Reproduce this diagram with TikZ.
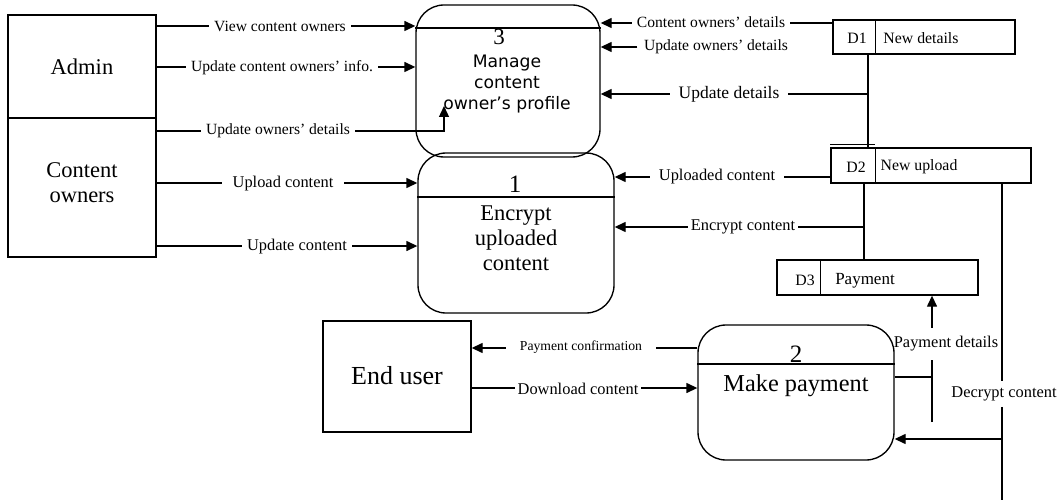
\documentclass[tikz,border=0pt]{standalone}
\usepackage{fontspec}
\setmainfont{Liberation Serif}
\newfontfamily\sansf{DejaVu Sans}
\usetikzlibrary{arrows.meta}
\begin{document}
\begin{tikzpicture}[x=1pt,y=-1pt,
  line width=1.35pt,
  arr/.style={-{Triangle[length=11pt,width=10pt]}},
  ent/.style={draw,rectangle,inner sep=0pt},
  proc/.style={draw,rectangle,rounded corners=28pt,inner sep=0pt},
  store/.style={draw,rectangle,inner sep=0pt},
  lbl/.style={fill=white,font=\fontsize{16.4}{18}\selectfont,inner xsep=5pt,inner ysep=2pt},
  lbls/.style={lbl,font=\fontsize{15.6}{17}\selectfont},
  plain/.style={font=\fontsize{16.4}{18}\selectfont,inner xsep=2pt},
  big/.style={font=\fontsize{22.5}{25}\selectfont,align=center},
  num/.style={font=\fontsize{25}{25}\selectfont,inner sep=0pt},
  stxt/.style={font=\fontsize{15.8}{17}\selectfont,inner sep=0pt},
]
\useasboundingbox (0,0) rectangle (1060,500);

% external entities
\node[ent,big,minimum width=148pt,minimum height=103pt] (admin) at (82,66.5) {Admin};
\node[ent,minimum width=148pt,minimum height=139pt] (cown) at (82,187.5) {};
\node[big] (cownt) at (82,183) {Content\\owners};
\node[ent,minimum width=148pt,minimum height=111pt] (eu) at (397,376.5) {};
\node[font=\fontsize{26}{26}\selectfont] (eut) at (397,376) {End user};

% processes
\node[proc,minimum width=184pt,minimum height=152pt] (p3) at (508,81) {};
\node[proc,minimum width=196pt,minimum height=160pt] (p1) at (516,233) {};
\node[proc,minimum width=196pt,minimum height=135pt] (p2) at (796,392.5) {};
\draw (p3.west |- 0,28) -- (p3.east |- 0,28);
\draw (p1.west |- 0,197) -- (p1.east |- 0,197);
\draw (p2.west |- 0,364) -- (p2.east |- 0,364);
\node[num,font=\fontsize{23}{23}\selectfont] (n3) at (499,37) {3};
\node[num] (n1) at (515,184) {1};
\node[num] (n2) at (796,354) {2};
\node[font=\sansf\fontsize{17.2}{21}\selectfont,align=center] (p3t) at (507,84) {Manage\\content\\owner’s profile};
\node[big] (p1t) at (516,238) {Encrypt\\uploaded\\content};
\node[font=\fontsize{24.3}{26}\selectfont] (p2t) at (796,386) {Make payment};

% data stores
\node[store,minimum width=182pt,minimum height=34pt] (d1) at (924,37) {};
\node[store,minimum width=200pt,minimum height=35pt] (d2) at (931,165.5) {};
\node[store,minimum width=201pt,minimum height=35pt] (d3) at (877.5,277.5) {};
\draw ([xshift=43pt]d1.north west) -- ([xshift=43pt]d1.south west);
\draw ([xshift=45pt]d2.north west) -- ([xshift=45pt]d2.south west);
\draw ([xshift=44pt]d3.north west) -- ([xshift=44pt]d3.south west);
\draw ([yshift=3pt]d2.north west) -- ([yshift=3pt,xshift=45pt]d2.north west);
\node[stxt] (d1a) at (857,38) {D1};
\node[stxt] (d1b) at (921,38) {New details};
\node[stxt] (d2a) at (856,167) {D2};
\node[stxt] (d2b) at (919,167) {New upload};
\node[stxt] (d3a) at (805,280) {D3};
\node[stxt,font=\fontsize{17}{19}\selectfont] (d3b) at (865,281) {Payment};

% junction coordinates
\coordinate (u3) at (444,106);
\coordinate (j1) at (868,94);
\coordinate (j2) at (864,227);
\coordinate (pj) at (932,422);
\coordinate (dbot) at (1002,500);

% left connectors
\draw[arr] (admin.east |- 0,26) -- (p3.west |- 0,26);
\node[lbls] at (280,26) {View content owners};
\draw[arr] (admin.east |- 0,67) -- (p3.west |- 0,67);
\node[lbls] at (282,68) {Update content owners’ info.};
\draw[arr] (cown.east |- 0,131) -| (u3);
\node[lbls] at (278,131) {Update owners’ details};
\draw[arr] (cown.east |- 0,183) -- (p1.west |- 0,183);
\node[lbl,inner xsep=11pt] at (283,184) {Upload content};
\draw[arr] (cown.east |- 0,246) -- (p1.west |- 0,246);
\node[lbl] at (297,247) {Update content};

% right connectors to P3
\draw[arr] (d1.west |- 0,23) -- (p3.east |- 0,23);
\node[lbls] at (711,22) {Content owners’ details};
\node[lbls,inner xsep=6pt] (uod) at (716,47) {Update owners’ details};
\draw[arr] (uod.west) -- (p3.east |- uod.west);
\draw (d1.south -| j1) -- (d2.north -| j1);
\draw[arr] (j1) -- (p3.east |- j1);
\node[lbl,font=\fontsize{17.5}{19}\selectfont,inner xsep=9pt] at (729,94) {Update details};

% connectors to P1
\draw[arr] (d2.west |- 0,177) -- (p1.east |- 0,177);
\node[lbl,inner xsep=9pt] at (717,177) {Uploaded content};
\draw (d2.south -| j2) -- (d3.north -| j2);
\draw[arr] (j2) -- (p1.east |- j2);
\node[lbl,inner xsep=3pt] at (743,227) {Encrypt content};

% end user connectors
\draw[arr] (p2.west |- 0,348) -- (eu.east |- 0,348);
\node[lbl,font=\fontsize{13.7}{15}\selectfont,inner xsep=14pt] at (581,347) {Payment confirmation};
\draw[arr] (eu.east |- 0,388) -- (p2.west |- 0,388);
\node[lbl,inner xsep=3pt] at (578,389) {Download content};

% payment details
\node[plain,inner ysep=8pt] (pdl) at (946,344) {Payment details};
\draw (p2.east |- 0,377) -| (pj);
\draw (pj) -- (pdl.south -| pj);
\draw[arr] (pdl.north -| pj) -- (d3.south -| pj);

% decrypt content
\node[plain,inner ysep=5pt] (dcl) at (1004,394) {Decrypt content};
\draw (d2.south -| dbot) -- (dcl.north -| dbot);
\draw (dcl.south -| dbot) -- (dbot);
\draw[arr] (dbot |- 0,439) -- (p2.east |- 0,439);
\end{tikzpicture}
\end{document}
